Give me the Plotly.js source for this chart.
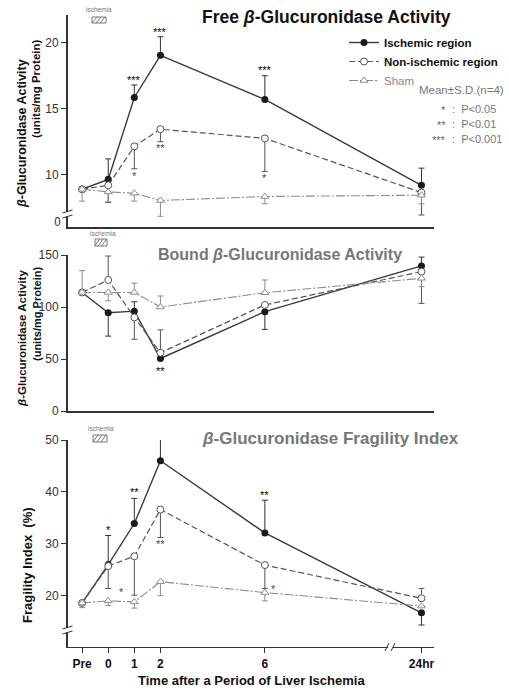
<!DOCTYPE html>
<html>
<head>
<meta charset="utf-8">
<script src="https://cdn.plot.ly/plotly-3.0.1.min.js"></script>
<style>html,body{margin:0;padding:0;background:#fff;}#chart{width:509px;height:690px;}</style>
</head>
<body>
<div id="chart"></div>
<script>
// ---------- data ----------
const timeLabels = ['Pre', '0', '1', '2', '6', '24hr'];
const timeHours = [-1, 0, 1, 2, 6, 24];

// Free beta-glucuronidase activity (units/mg protein)
const freeIsch = [8.9, 9.65, 15.85, 19.05, 15.7, 9.2];
const freeIschUp = [0, 1.55, 0.95, 1.4, 1.8, 1.3];
const freeIschDn = [0, 0, 0, 0, 0, 0];
const freeNon = [8.9, 9.2, 12.15, 13.45, 12.75, 8.65];
const freeNonUp = [0, 0, 0, 0, 0, 0];
const freeNonDn = [0, 1.3, 1.7, 0.95, 2.5, 1.7];
const freeSham = [8.9, 8.7, 8.6, 8.05, 8.35, 8.45];
const freeShamUp = [0, 0, 0, 0, 0, 0];
const freeShamDn = [0.9, 0.75, 0.6, 1.2, 0.55, 0.65];

// Bound beta-glucuronidase activity
const boundIsch = [114, 94.5, 96, 50.5, 95.5, 139.5];
const boundIschUp = [0, 0, 9, 0, 0, 8.5];
const boundIschDn = [0, 22.5, 0, 0, 17, 0];
const boundNon = [114, 126, 90, 56, 102, 134];
const boundNonUp = [0, 23, 0, 22, 0, 0];
const boundNonDn = [0, 0, 21, 0, 0, 30.5];
const boundSham = [114, 114, 114, 100, 113.7, 127.6];
const boundShamUp = [21, 0, 9, 10.6, 12.3, 0];
const boundShamDn = [0, 8, 0, 0, 0, 8];

// Fragility index (%)
const fragIsch = [18.6, 26.0, 33.9, 46.0, 32.1, 16.7];
const fragIschUp = [0, 5.6, 4.85, 4.9, 6.3, 0];
const fragIschDn = [0, 0, 0, 0, 0, 2.35];
const fragNon = [18.6, 25.7, 27.6, 36.6, 25.9, 19.5];
const fragNonUp = [0, 0, 0, 0, 0, 1.9];
const fragNonDn = [0, 4.3, 7.5, 5.4, 4.5, 0];
const fragSham = [18.6, 19.0, 18.8, 22.7, 20.6, 18.0];
const fragShamUp = [0, 0, 0, 0, 0, 0];
const fragShamDn = [0.9, 0.9, 1.2, 2.7, 1.6, 0];

// significance marks: [hour, value, text, series]
const starsFree = [[1, 17.2, '***', 'i'], [2, 20.8, '***', 'i'], [6, 17.9, '***', 'i'],
                   [1, 9.9, '*', 'n'], [2, 12.0, '**', 'n'], [6, 9.75, '*', 'n']];
const starsBound = [[2, 38.5, '**', 'i']];
const starsFrag = [[0, 32.7, '*', 'i'], [1, 40.0, '**', 'i'], [2, 51.6, '***', 'i'], [6, 39.4, '**', 'i'],
                   [2, 29.9, '**', 'n'], [0.5, 20.7, '*', 'n'], [6.35, 21.3, '*', 's']];

// ---------- helpers ----------
const W = 509, H = 690;
const PX = p => p / W;
const PY = p => 1 - p / H;
// broken axis: 24 hr drawn after the break
const brk = h => (h > 6 ? 12 : h);
const xs = timeHours.map(brk);

const COL = {i: '#3a3a3a', n: '#555555', s: '#8c8c8c'};
const FONT = 'Liberation Sans, Arial, sans-serif';
const NARROW = 'Liberation Sans Narrow, Arial Narrow, Liberation Sans, Arial, sans-serif';

function series(y, up, dn, kind, ax, show) {
  const line = kind === 'i' ? {color: COL.i, width: 1.4, dash: 'solid'}
             : kind === 'n' ? {color: COL.n, width: 1.2, dash: '6px,3px'}
             : {color: COL.s, width: 1.1, dash: '9px,2px,2px,2px'};
  const marker = kind === 'i' ? {symbol: 'circle', size: 7, color: '#1a1a1a'}
               : kind === 'n' ? {symbol: 'circle', size: 7, color: '#fff', line: {color: COL.n, width: 1}}
               : {symbol: 'triangle-up', size: 7, color: '#fff', line: {color: COL.s, width: 1}};
  const names = {
    i: '<b>Ischemic region</b>',
    n: '<b>Non-ischemic region</b>',
    s: '<span style="color:#888">Sham</span>'
  };
  return {
    type: 'scatter', mode: 'lines+markers', x: xs, y: y,
    xaxis: 'x' + (ax === 1 ? '' : ax), yaxis: 'y' + (ax === 1 ? '' : ax),
    line: line, marker: marker, name: names[kind], showlegend: show, cliponaxis: false,
    error_y: {type: 'data', symmetric: false, array: up, arrayminus: dn,
              color: kind === 'i' ? '#333' : COL[kind], thickness: 1, width: 3},
    hoverinfo: 'x+y'
  };
}

const data = [
  series(freeIsch, freeIschUp, freeIschDn, 'i', 1, true),
  series(freeNon, freeNonUp, freeNonDn, 'n', 1, true),
  series(freeSham, freeShamUp, freeShamDn, 's', 1, true),
  series(boundIsch, boundIschUp, boundIschDn, 'i', 2, false),
  series(boundNon, boundNonUp, boundNonDn, 'n', 2, false),
  series(boundSham, boundShamUp, boundShamDn, 's', 2, false),
  series(fragIsch, fragIschUp, fragIschDn, 'i', 3, false),
  series(fragNon, fragNonUp, fragNonDn, 'n', 3, false),
  series(fragSham, fragShamUp, fragShamDn, 's', 3, false)
];

const xDomain = [PX(67.5), PX(434)];
const xRange = [-1.56, 12.48];
function xax(showLabels) {
  return {
    domain: xDomain, range: xRange, showgrid: false, zeroline: false,
    showline: true, linecolor: '#333', linewidth: 1.5,
    tickmode: 'array', tickvals: xs, ticktext: timeLabels,
    ticks: showLabels ? 'outside' : '', ticklen: 5, tickcolor: '#333',
    showticklabels: showLabels,
    tickfont: {family: FONT, size: 12, color: '#111', weight: 'bold'},
    fixedrange: true
  };
}
function yax(domain, range, vals, texts) {
  return {
    domain: domain, range: range, showgrid: false, zeroline: false,
    showline: true, linecolor: '#333', linewidth: 1.5,
    ticks: 'outside', ticklen: 5, tickcolor: '#333',
    tickmode: 'array', tickvals: vals, ticktext: texts,
    tickfont: {family: NARROW, size: 12, color: '#333'},
    fixedrange: true
  };
}

const annotations = [];
function txt(x, y, text, opts) {
  annotations.push(Object.assign({xref: 'paper', yref: 'paper', x: PX(x), y: PY(y), text: text,
    showarrow: false, xanchor: 'center', yanchor: 'middle',
    font: {family: FONT, size: 12, color: '#111'}}, opts || {}));
}
// panel titles
txt(326, 17, 'Free <i>β</i>-Glucuronidase Activity', {font: {family: FONT, size: 17.5, color: '#111', weight: 'bold'}});
txt(280, 255, 'Bound <i>β</i>-Glucuronidase Activity', {font: {family: FONT, size: 16, color: '#777', weight: 'bold'}});
txt(330, 438, '<i>β</i>-Glucuronidase Fragility Index', {font: {family: FONT, size: 17, color: '#777', weight: 'bold'}});
// y titles
txt(22, 134, '<i>β</i>-Glucuronidase Activity', {textangle: -90, font: {family: FONT, size: 12.5, color: '#111', weight: 'bold'}});
txt(36, 89, '(units/mg Protein)', {textangle: -90, font: {family: FONT, size: 11.5, color: '#111', weight: 'bold'}});
txt(22, 339, '<i>β</i>-Glucuronidase Activity', {textangle: -90, font: {family: NARROW, size: 11.5, color: '#111', weight: 'bold'}});
txt(37, 314, '(units/mg Protein)', {textangle: -90, font: {family: NARROW, size: 11, color: '#111', weight: 'bold'}});
txt(27, 565, 'Fragility Index  (%)', {textangle: -90, font: {family: FONT, size: 13, color: '#111', weight: 'bold'}});
// broken-axis origin label of the top panel
txt(57, 222, '0', {font: {family: 'DejaVu Sans Condensed, DejaVu Sans, sans-serif', size: 12, color: '#333'}});
// x title
txt(251, 680, 'Time after a Period of Liver Ischemia', {font: {family: FONT, size: 13, color: '#111', weight: 'bold'}});
// legend notes
txt(461, 90, 'Mean±S.D.(n=4)', {font: {family: NARROW, size: 11.5, color: '#777'}});
[['*', 'P<0.05', 109], ['**', 'P<0.01', 124], ['***', 'P<0.001', 139]].forEach(r => {
  txt(448, r[2] + 1, r[0], {xanchor: 'right', font: {family: FONT, size: 11, color: '#666'}});
  txt(450, r[2], ':  ' + r[1], {xanchor: 'left', font: {family: NARROW, size: 11, color: '#777'}});
});
// ischemia labels
[[99, 10], [103, 233], [101, 428]].forEach(p => txt(p[0], p[1], 'ischemia', {font: {family: FONT, size: 6.5, color: '#777'}}));

// significance stars in data coords
function stars(list, ax) {
  list.forEach(s => annotations.push({
    xref: 'x' + (ax === 1 ? '' : ax), yref: 'y' + (ax === 1 ? '' : ax),
    x: s[0], y: s[1], text: s[2], showarrow: false, xanchor: 'center', yanchor: 'middle',
    font: {family: FONT, size: 11, color: s[3] === 'i' ? '#000' : '#444'}
  }));
}
stars(starsFree, 1); stars(starsBound, 2); stars(starsFrag, 3);

// shapes: ischemia boxes and axis breaks
const shapes = [];
function hatch(x0, y0, x1, y1) {
  shapes.push({type: 'rect', xref: 'paper', yref: 'paper', x0: PX(x0), x1: PX(x1), y0: PY(y0), y1: PY(y1),
    line: {color: '#777', width: 1}, fillcolor: '#fff'});
  const w = x1 - x0;
  for (let k = 0; k < 3; k++) {
    const a = x0 + w * (k + 0.5) / 3.5;
    shapes.push({type: 'line', xref: 'paper', yref: 'paper', x0: PX(a - 2), y0: PY(y1), x1: PX(a + 3), y1: PY(y0),
      line: {color: '#777', width: 1}});
  }
}
hatch(92, 17, 106, 23);
hatch(95, 239, 107, 246);
hatch(93, 435, 107, 442);
function ybreak(xc, yc) {
  shapes.push({type: 'rect', xref: 'paper', yref: 'paper', x0: PX(xc - 3), x1: PX(xc + 3), y0: PY(yc - 2), y1: PY(yc + 2),
    line: {width: 0}, fillcolor: '#fff'});
  shapes.push({type: 'line', xref: 'paper', yref: 'paper', x0: PX(xc - 5), y0: PY(yc - 1), x1: PX(xc + 5), y1: PY(yc - 4), line: {color: '#333', width: 1}});
  shapes.push({type: 'line', xref: 'paper', yref: 'paper', x0: PX(xc - 5), y0: PY(yc + 4), x1: PX(xc + 5), y1: PY(yc + 1), line: {color: '#333', width: 1}});
}
ybreak(67.5, 214);
ybreak(67.5, 630);
// x break on the bottom axis
shapes.push({type: 'rect', xref: 'paper', yref: 'paper', x0: PX(388), x1: PX(393), y0: PY(649), y1: PY(645),
  line: {width: 0}, fillcolor: '#fff'});
shapes.push({type: 'line', xref: 'paper', yref: 'paper', x0: PX(385), y0: PY(651), x1: PX(389), y1: PY(643), line: {color: '#333', width: 1}});
shapes.push({type: 'line', xref: 'paper', yref: 'paper', x0: PX(391), y0: PY(651), x1: PX(395), y1: PY(643), line: {color: '#333', width: 1}});

const layout = {
  width: W, height: H, margin: {l: 0, r: 0, t: 0, b: 0}, autosize: false,
  paper_bgcolor: '#fff', plot_bgcolor: '#fff',
  font: {family: FONT, color: '#111'},
  xaxis: Object.assign(xax(false), {anchor: 'y'}),
  yaxis: Object.assign(yax([PY(227), PY(15)], [6.04, 22.1], [10, 15, 20], ['10', '15', '20']), {anchor: 'x'}),
  xaxis2: Object.assign(xax(false), {anchor: 'y2'}),
  yaxis2: Object.assign(yax([PY(411), PY(255)], [0, 150], [0, 50, 100, 150], ['0', '50', '100', '150']), {anchor: 'x2'}),
  xaxis3: Object.assign(xax(true), {anchor: 'y3'}),
  yaxis3: Object.assign(yax([PY(646.7), PY(440)], [10.17, 50], [20, 30, 40, 50], ['20', '30', '40', '50']), {anchor: 'x3'}),
  showlegend: true,
  legend: {x: PX(344), y: PY(28), xanchor: 'left', yanchor: 'top', bgcolor: 'rgba(0,0,0,0)',
           font: {family: FONT, size: 11.5, color: '#111'}, itemwidth: 30, tracegroupgap: 0},
  annotations: annotations, shapes: shapes
};

Plotly.newPlot('chart', data, layout, {displayModeBar: false, staticPlot: true});
</script>
</body>
</html>
